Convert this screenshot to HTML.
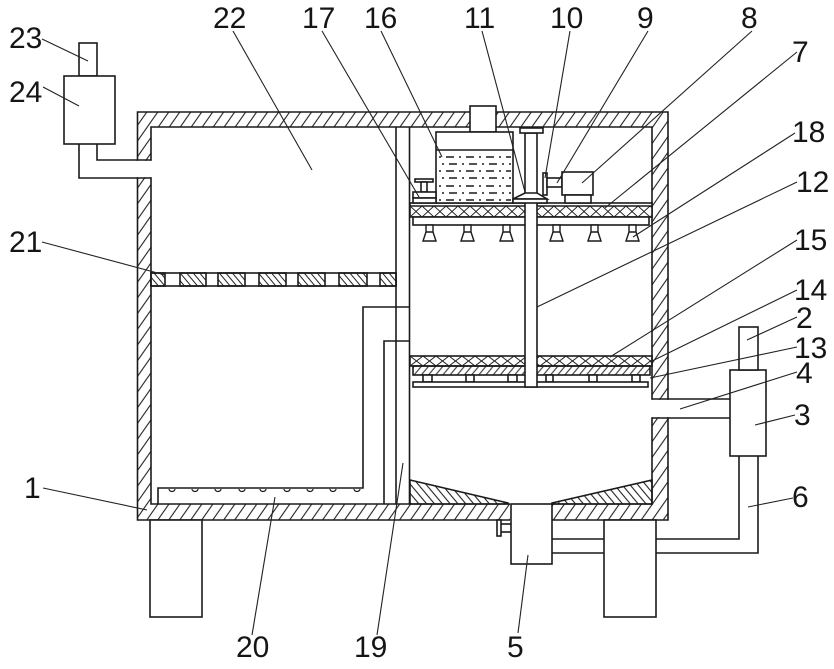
<!DOCTYPE html>
<html><head><meta charset="utf-8"><style>
html,body{margin:0;padding:0;background:#fff;}
svg{display:block;}
text{font-family:"Liberation Sans",Arial,sans-serif;font-size:30px;fill:#151515;}
</style></head><body>
<svg width="834" height="669" viewBox="0 0 834 669" xmlns="http://www.w3.org/2000/svg">
<defs>
<pattern id="hw" patternUnits="userSpaceOnUse" width="9" height="9" patternTransform="rotate(35)"><line x1="4.5" y1="-1" x2="4.5" y2="10" stroke="#222" stroke-width="1.1"/></pattern>
<pattern id="hb" patternUnits="userSpaceOnUse" width="6" height="6" patternTransform="rotate(-40)"><line x1="3" y1="-1" x2="3" y2="7" stroke="#222" stroke-width="1.1"/></pattern>
<pattern id="hs" patternUnits="userSpaceOnUse" width="5" height="5" patternTransform="rotate(-40)"><line x1="2.5" y1="-1" x2="2.5" y2="6" stroke="#222" stroke-width="1"/></pattern>
<pattern id="hf" patternUnits="userSpaceOnUse" width="5.5" height="5.5" patternTransform="rotate(40)"><line x1="2.75" y1="-1" x2="2.75" y2="6.5" stroke="#222" stroke-width="1"/></pattern>
<pattern id="x7" patternUnits="userSpaceOnUse" x="410" y="206" width="12" height="11"><path d="M0,0L12,11M0,11L12,0" stroke="#222" stroke-width="1"/></pattern>
<pattern id="x15" patternUnits="userSpaceOnUse" x="410" y="356" width="13" height="10"><path d="M0,0L13,10M0,10L13,0" stroke="#222" stroke-width="1"/></pattern>
</defs>

<g fill="none" stroke="#1a1a1a" stroke-width="1.6">
<!-- main frame walls -->
<path d="M137.5,112H668V520H137.5Z M151,127V504H652V127Z" fill="url(#hw)" fill-rule="evenodd"/>
<!-- gaps -->
<rect x="136" y="160.8" width="16" height="16.4" fill="#fff" stroke="none"/>
<rect x="650.8" y="399.8" width="18.5" height="17.4" fill="#fff" stroke="none"/>
<rect x="510" y="503" width="42" height="18.5" fill="#fff" stroke="none"/>

<!-- left external: 23, 24 -->
<rect x="79" y="43" width="18" height="33" fill="#fff"/>
<rect x="64" y="76" width="51" height="68" fill="#fff"/>
<polyline points="79,144 79,178 151,178"/>
<polyline points="97,144 97,160 151,160"/>

<!-- partition -->
<line x1="396" y1="127" x2="396" y2="504"/>
<line x1="409.5" y1="127" x2="409.5" y2="504"/>

<!-- filter plate 21 -->
<rect x="151" y="273" width="245" height="13" fill="#fff"/>
<g fill="url(#hs)">
<rect x="151" y="273" width="14" height="13"/>
<rect x="180" y="273" width="26" height="13"/>
<rect x="218" y="273" width="27" height="13"/>
<rect x="259" y="273" width="27" height="13"/>
<rect x="298" y="273" width="27" height="13"/>
<rect x="339" y="273" width="28" height="13"/>
<rect x="380" y="273" width="16" height="13"/>
</g>

<!-- pipe 19 and tray 20 -->
<polyline points="409.5,307 363,307 363,488 158,488 158,504"/>
<polyline points="409.5,341 384,341 384,504"/>
<g stroke-width="1.2">
<path d="M169,489a3,2.5 0 0 0 6,0M192,489a3,2.5 0 0 0 6,0M215,489a3,2.5 0 0 0 6,0M239,489a3,2.5 0 0 0 6,0M260,489a3,2.5 0 0 0 6,0M284,489a3,2.5 0 0 0 6,0M307,489a3,2.5 0 0 0 6,0M330,489a3,2.5 0 0 0 6,0M354,489a3,2.5 0 0 0 6,0"/>
</g>

<!-- plate 7 -->
<rect x="410" y="203" width="242" height="14" fill="#fff"/>
<rect x="410" y="206" width="242" height="11" fill="url(#x7)" stroke="none"/>
<line x1="410" y1="206" x2="652" y2="206"/>
<rect x="413" y="217" width="236" height="8" fill="#fff"/>

<!-- nozzles -->
<g fill="#fff" stroke-width="1.4">
<path d="M426,225h7v7h-7z M426,232h7l3,9h-13z"/>
<path d="M464,225h7v7h-7z M464,232h7l3,9h-13z"/>
<path d="M503,225h7v7h-7z M503,232h7l3,9h-13z"/>
<path d="M553,225h7v7h-7z M553,232h7l3,9h-13z"/>
<path d="M591,225h7v7h-7z M591,232h7l3,9h-13z"/>
<path d="M629,225h7v7h-7z M629,232h7l3,9h-13z"/>
</g>

<!-- plates 15,14,13 -->
<rect x="410" y="356" width="242" height="10" fill="url(#x15)"/>
<rect x="413" y="366" width="237" height="9" fill="url(#hf)"/>
<g fill="#fff">
<rect x="423" y="375" width="9" height="7"/>
<rect x="466" y="375" width="8" height="7"/>
<rect x="508" y="375" width="9" height="7"/>
<rect x="546" y="375" width="7" height="7"/>
<rect x="589" y="375" width="8" height="7"/>
<rect x="632" y="375" width="8" height="7"/>
</g>
<rect x="413" y="382" width="235" height="5" fill="#fff"/>

<!-- shaft 12 -->
<rect x="525" y="133" width="12" height="254" fill="#fff"/>

<!-- top box and tank 16 -->
<rect x="470" y="106" width="26" height="26" fill="#fff"/>
<rect x="436" y="132" width="77" height="71" fill="#fff"/>
<line x1="436" y1="150" x2="513" y2="150"/>
<g stroke-width="1.5" stroke-dasharray="2 5 8 5">
<line x1="439" y1="157" x2="511" y2="157"/>
<line x1="442" y1="164" x2="511" y2="164"/>
<line x1="439" y1="171" x2="511" y2="171"/>
<line x1="442" y1="178" x2="511" y2="178"/>
<line x1="439" y1="186" x2="511" y2="186"/>
<line x1="442" y1="193" x2="511" y2="193"/>
<line x1="439" y1="200" x2="511" y2="200"/>
</g>

<!-- column 11 top T and base -->
<rect x="520" y="128" width="23" height="5" fill="#fff"/>
<polygon points="525,193 537,193 547,199 513,199" fill="#fff"/>
<rect x="513" y="199" width="34" height="4" fill="#fff"/>

<!-- bracket 10, coupling, motor 8 -->
<rect x="543" y="173" width="4" height="22" fill="#fff"/>
<rect x="547" y="178" width="15" height="9" fill="#fff"/>
<rect x="562" y="172" width="31" height="23" fill="#fff"/>
<rect x="565" y="195" width="26" height="8" fill="#fff"/>

<!-- valve 17 -->
<rect x="415" y="179" width="18" height="3" fill="#fff"/>
<rect x="421" y="182" width="6" height="10" fill="#fff"/>
<rect x="413" y="192" width="23" height="6" fill="#fff"/>
<rect x="413" y="198" width="23" height="5" fill="#fff"/>

<!-- hopper -->
<polygon points="410,480 508,503 508,504 410,504" fill="url(#hb)"/>
<polygon points="552,504 552,503 652,480 652,504" fill="url(#hb)"/>

<!-- outlet box 5 -->
<rect x="511" y="504" width="41" height="60" fill="#fff"/>
<rect x="497" y="520" width="4" height="16" fill="#fff"/>
<line x1="501" y1="524" x2="511" y2="524"/>
<line x1="501" y1="532" x2="511" y2="532"/>

<!-- legs -->
<rect x="150" y="520" width="52" height="97" fill="#fff"/>
<rect x="604" y="520" width="52" height="97" fill="#fff"/>

<!-- pipe 6 -->
<line x1="552" y1="539" x2="604" y2="539"/>
<line x1="552" y1="553" x2="604" y2="553"/>
<polyline points="656,539 739,539 739,456"/>
<polyline points="656,553 758,553 758,456"/>

<!-- pipe 4, part 3, part 2 -->
<line x1="652" y1="399" x2="730" y2="399"/>
<line x1="652" y1="418" x2="730" y2="418"/>
<rect x="730" y="370" width="36" height="86" fill="#fff"/>
<rect x="739" y="327" width="19" height="43" fill="#fff"/>
</g>

<!-- leader lines -->
<g stroke="#222" stroke-width="1.1" fill="none">
<line x1="233" y1="31" x2="312" y2="170"/>
<line x1="322" y1="31" x2="419" y2="197"/>
<line x1="381" y1="31" x2="442" y2="157"/>
<line x1="482" y1="31" x2="525" y2="192"/>
<line x1="570" y1="31" x2="545" y2="178"/>
<line x1="648" y1="31" x2="557" y2="183"/>
<line x1="752" y1="31" x2="582" y2="183"/>
<line x1="797" y1="52" x2="605" y2="208"/>
<line x1="795" y1="133" x2="633" y2="237"/>
<line x1="797" y1="182" x2="537" y2="307"/>
<line x1="797" y1="240" x2="610" y2="357"/>
<line x1="797" y1="290" x2="650" y2="362"/>
<line x1="797" y1="317" x2="747" y2="340"/>
<line x1="797" y1="347" x2="650" y2="378"/>
<line x1="797" y1="372" x2="680" y2="409"/>
<line x1="795" y1="415" x2="755" y2="425"/>
<line x1="793" y1="498" x2="748" y2="507"/>
<line x1="42" y1="39" x2="88" y2="61"/>
<line x1="43" y1="87" x2="79" y2="106"/>
<line x1="42" y1="242" x2="165" y2="275"/>
<line x1="43" y1="488" x2="147" y2="510"/>
<line x1="252" y1="635" x2="275" y2="497"/>
<line x1="377" y1="635" x2="403" y2="463"/>
<line x1="518" y1="633" x2="528" y2="555"/>
</g>

<!-- labels -->
<text x="213" y="28">22</text>
<text x="302" y="28">17</text>
<text x="364" y="28">16</text>
<text x="464" y="28">11</text>
<text x="550" y="28">10</text>
<text x="637" y="28">9</text>
<text x="741" y="28">8</text>
<text x="792" y="62">7</text>
<text x="792" y="142">18</text>
<text x="796" y="192">12</text>
<text x="794" y="250">15</text>
<text x="794" y="300">14</text>
<text x="796" y="328">2</text>
<text x="794" y="358">13</text>
<text x="796" y="383">4</text>
<text x="794" y="425">3</text>
<text x="792" y="507">6</text>
<text x="9" y="48">23</text>
<text x="9" y="102">24</text>
<text x="9" y="252">21</text>
<text x="24" y="498">1</text>
<text x="236" y="657">20</text>
<text x="354" y="657">19</text>
<text x="507" y="657">5</text>
</svg>
</body></html>
